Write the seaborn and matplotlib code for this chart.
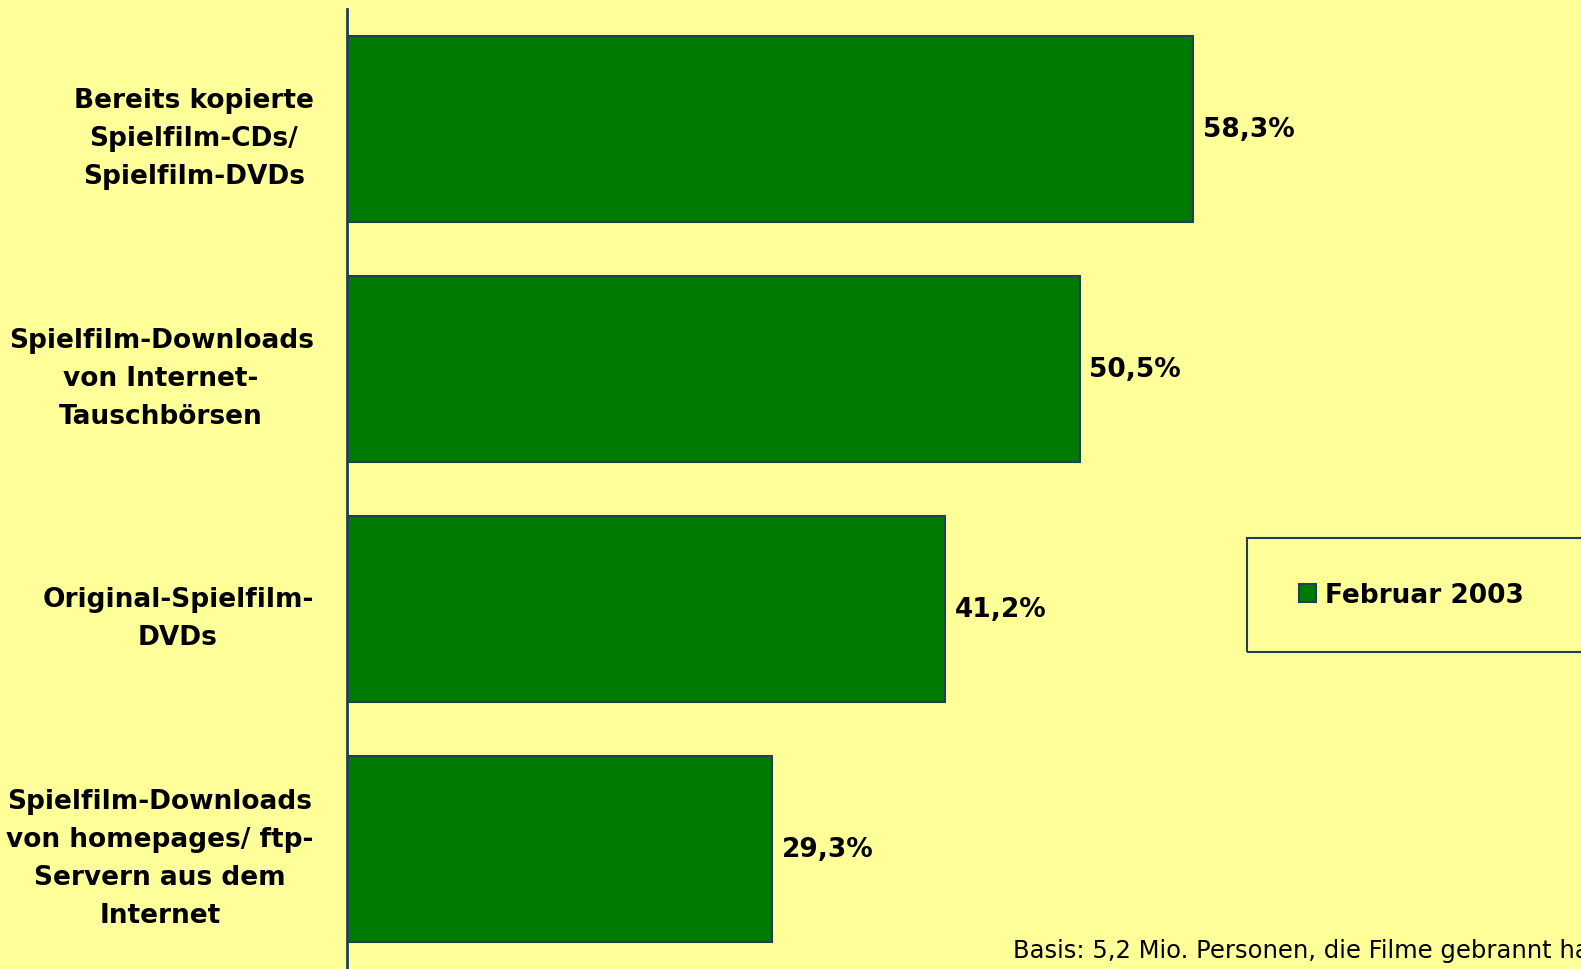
import seaborn as sns
import matplotlib.pyplot as plt
from matplotlib.patches import Rectangle
import pandas as pd

categories = [
    "Bereits kopierte\nSpielfilm-CDs/\nSpielfilm-DVDs",
    "Spielfilm-Downloads\nvon Internet-\nTauschbörsen",
    "Original-Spielfilm-\nDVDs",
    "Spielfilm-Downloads\nvon homepages/ ftp-\nServern aus dem\nInternet",
]
values = [58.3, 50.5, 41.2, 29.3]
series_name = "Februar 2003"
footnote = "Basis: 5,2 Mio. Personen, die Filme gebrannt haben"

bg = "#FFFF99"
green = "#007A00"
edge = "#1F3F5A"

sns.set_theme(style="white")
plt.rcParams["font.family"] = ["DejaVu Sans"]
plt.rcParams["text.color"] = "black"
plt.rcParams["ytick.color"] = "black"

df = pd.DataFrame({"Kategorie": categories, "Anteil": values, "Zeitraum": series_name})

fig = plt.figure(figsize=(15.81, 9.70), dpi=100, facecolor=bg)
ax = fig.add_axes([347 / 1581, 0, 1 - 347 / 1581, 1 - 10 / 970])
ax.set_facecolor(bg)

sns.barplot(
    data=df, x="Anteil", y="Kategorie", hue="Zeitraum", orient="h",
    palette=[green], saturation=1, edgecolor=edge, linewidth=1.5,
    width=0.775, ax=ax,
)

ax.set_xlim(0, 85.05)
ax.set_ylim(3.5, -0.5)
ax.set_xlabel("")
ax.set_ylabel("")
ax.set_xticks([])
for s in ["top", "right", "bottom"]:
    ax.spines[s].set_visible(False)
ax.spines["left"].set_color(edge)
ax.spines["left"].set_linewidth(2)

ax.tick_params(axis="y", length=0, pad=24, labelcolor="black")
for lab in ax.get_yticklabels():
    lab.set_fontsize(19)
    lab.set_fontweight("bold")
    lab.set_multialignment("center")
    lab.set_linespacing(1.6)

for cont in ax.containers:
    ax.bar_label(
        cont, labels=[f"{v:.1f}%".replace(".", ",") for v in values],
        padding=7, fontsize=19, fontweight="bold", color="black",
    )

handles, _ = ax.get_legend_handles_labels()
leg = ax.legend(
    handles=handles[:1], labels=[series_name],
    loc="center left", bbox_to_anchor=(1299 / 1581, 1 - 596 / 970),
    bbox_transform=fig.transFigure,
    prop={"size": 19, "weight": "bold"}, frameon=False,
    borderpad=0, handlelength=0.65, handleheight=0.65, handletextpad=0.35,
    borderaxespad=0,
)
for t in leg.get_texts():
    t.set_color("black")

# legend box runs off the right edge like in the original
fig.patches.append(Rectangle(
    (1247 / 1581, 1 - 653 / 970), 0.3, 114 / 970,
    transform=fig.transFigure, facecolor="none", edgecolor=edge, linewidth=1.5,
))

fig.text(1013 / 1581, 1 - 958 / 970, footnote, fontsize=17.5, ha="left",
         va="baseline", color="black")

fig.savefig("out.png", dpi=100, facecolor=bg)
